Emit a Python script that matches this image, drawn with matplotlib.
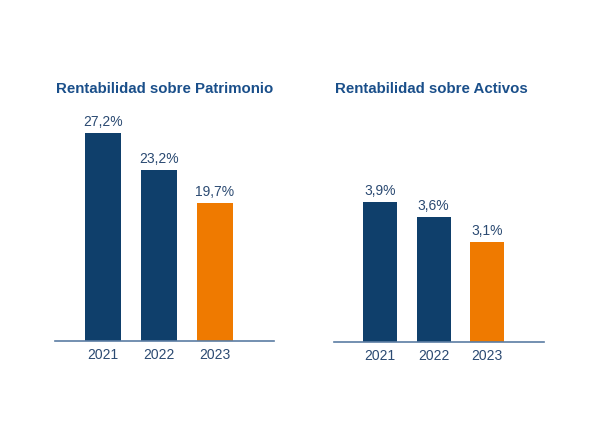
import matplotlib
matplotlib.use("Agg")
import matplotlib.pyplot as plt

years = ["2021", "2022", "2023"]
roe = [27.2, 23.2, 19.7]
roa = [3.9, 3.6, 3.1]
roe_labels = ["27,2%", "23,2%", "19,7%"]
roa_labels = ["3,9%", "3,6%", "3,1%"]
titles = ["Rentabilidad sobre Patrimonio", "Rentabilidad sobre Activos"]

plt.rcParams['font.family'] = ['Liberation Sans', 'DejaVu Sans']

navy = "#0f3f6b"
orange = "#ef7a00"
title_col = "#1a4f8a"
text_col = "#2b4a72"
axis_col = "#5b7da3"
colors = [navy, navy, orange]

W, H = 600, 422
fig = plt.figure(figsize=(6, 4.22), dpi=100)

def px_axes(x0, x1, ytop, ybot):
    return fig.add_axes([x0 / W, 1 - ybot / H, (x1 - x0) / W, (ybot - ytop) / H])

ax1 = px_axes(55, 274, 100, 341)
ax2 = px_axes(334, 544, 100, 342)

panels = [(ax1, roe, roe_labels, (4.9, 30.73)), (ax2, roa, roa_labels, (1.1, 5.94))]
for ax, vals, labs, ylim in panels:
    x = range(len(years))
    ax.bar(x, vals, width=0.64, color=colors, bottom=0)
    ax.set_ylim(*ylim)
    ax.set_xlim(-0.86, 3.06)
    for xi, v, l in zip(x, vals, labs):
        ax.annotate(l, (xi, v), xytext=(0, 3), textcoords="offset points",
                    ha="center", va="bottom", fontsize=10, color=text_col)
    ax.set_xticks(list(x))
    ax.set_xticklabels(years, fontsize=10, color=text_col)
    ax.tick_params(axis="x", length=0, pad=5)
    ax.set_yticks([])
    for s in ["top", "right", "left"]:
        ax.spines[s].set_visible(False)
    ax.spines["bottom"].set_color(axis_col)
    ax.spines["bottom"].set_linewidth(1.2)

fig.text(56 / W, 1 - 89 / H, titles[0], ha="left", va="center",
         fontsize=10.8, fontweight="bold", color=title_col)
fig.text(335 / W, 1 - 89 / H, titles[1], ha="left", va="center",
         fontsize=10.8, fontweight="bold", color=title_col)

fig.savefig("out.png", dpi=100, facecolor="white")
